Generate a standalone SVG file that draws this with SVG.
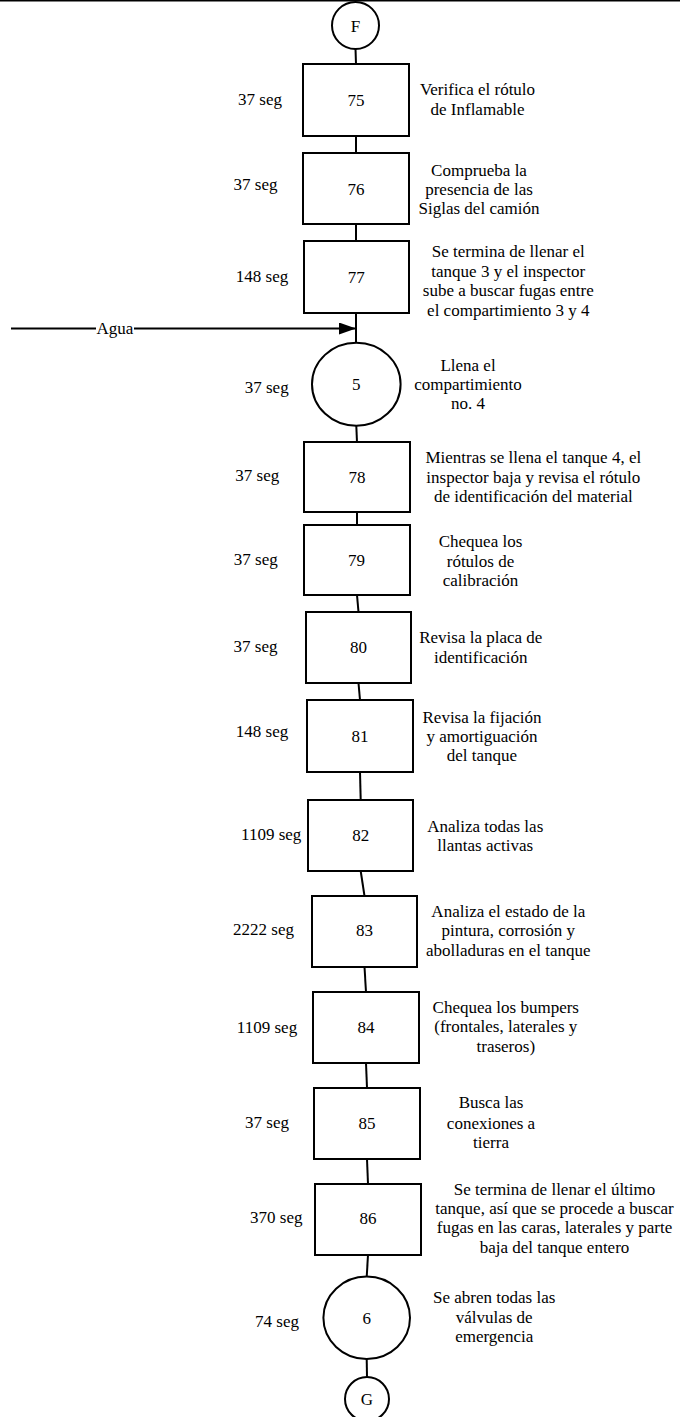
<svg xmlns="http://www.w3.org/2000/svg" width="680" height="1417" viewBox="0 0 680 1417">
<style>
text{font-family:"Liberation Serif","Times New Roman",serif;font-size:17px;fill:#000;text-anchor:middle}
.s{fill:#fff;stroke:#000;stroke-width:2}
.c{stroke:#000;stroke-width:2;fill:none}
</style>
<defs>
<marker id="ah" markerUnits="userSpaceOnUse" markerWidth="18" markerHeight="14" refX="17" refY="6" orient="auto">
<path d="M0,0 L17,6 L0,12 Z" fill="#000"/>
</marker>
</defs>
<rect x="0" y="0" width="680" height="1417" fill="#fff"/>
<line x1="0" y1="0.75" x2="680" y2="0.75" stroke="#000" stroke-width="1.5"/>
<g id="connectors">
<line class="c" x1="355.5" y1="49" x2="356" y2="64"/>
<line class="c" x1="356" y1="136" x2="356" y2="153"/>
<line class="c" x1="356" y1="224" x2="356" y2="241"/>
<line class="c" x1="356" y1="313" x2="356" y2="343"/>
<line class="c" x1="356.3" y1="426" x2="357" y2="442"/>
<line class="c" x1="357" y1="512" x2="357" y2="525"/>
<line class="c" x1="357" y1="595" x2="358.5" y2="612"/>
<line class="c" x1="358.5" y1="683" x2="360" y2="700"/>
<line class="c" x1="360" y1="772" x2="360.7" y2="800"/>
<line class="c" x1="360.7" y1="871" x2="364.5" y2="896"/>
<line class="c" x1="364.5" y1="967" x2="366" y2="992"/>
<line class="c" x1="366" y1="1063" x2="367" y2="1088"/>
<line class="c" x1="367" y1="1159" x2="368" y2="1184"/>
<line class="c" x1="368" y1="1255" x2="366.7" y2="1277"/>
<line class="c" x1="366.7" y1="1359" x2="367" y2="1377"/>
<line class="c" x1="11" y1="328.5" x2="96" y2="328.5"/>
<line class="c" x1="134" y1="328.5" x2="356" y2="328.5" marker-end="url(#ah)"/>
<text x="115" y="333.5">Agua</text>
</g>
<g id="nF"><circle class="s" cx="355.5" cy="25.5" r="23.5"/><text x="355.5" y="31.5">F</text></g>
<g id="n75"><rect class="s" x="303" y="64" width="106" height="72"/><text x="356" y="105.5">75</text><text x="260" y="105">37 seg</text><text x="477.5" y="95">Verifica el rótulo</text><text x="477.5" y="115">de Inflamable</text></g>
<g id="n76"><rect class="s" x="303" y="153" width="106" height="71"/><text x="356" y="194.5">76</text><text x="255.5" y="190">37 seg</text><text x="479" y="175.5">Comprueba la</text><text x="479" y="194.5">presencia de las</text><text x="479" y="213.5">Siglas del camión</text></g>
<g id="n77"><rect class="s" x="304" y="241" width="105" height="72"/><text x="356.3" y="283">77</text><text x="262" y="281.7">148 seg</text><text x="508.3" y="257">Se termina de llenar el</text><text x="508.3" y="276.5">tanque 3 y el inspector</text><text x="508.3" y="296">sube a buscar fugas entre</text><text x="508.3" y="315.5">el compartimiento 3 y 4</text></g>
<g id="n5"><ellipse class="s" cx="356.3" cy="384.2" rx="44.3" ry="41.5"/><text x="356.3" y="389.5">5</text><text x="266.7" y="393.3">37 seg</text><text x="468" y="370.5">Llena el</text><text x="468" y="389.5">compartimiento</text><text x="468" y="408.5">no. 4</text></g>
<g id="n78"><rect class="s" x="304" y="442" width="106" height="70"/><text x="357" y="482.5">78</text><text x="257.3" y="481">37 seg</text><text x="533.3" y="463.3">Mientras se llena el tanque 4, el</text><text x="533.3" y="482.7">inspector baja y revisa el rótulo</text><text x="533.3" y="501.7">de identificación del material</text></g>
<g id="n79"><rect class="s" x="304" y="525" width="106" height="70"/><text x="356.5" y="565.5">79</text><text x="255.8" y="565">37 seg</text><text x="480.5" y="547">Chequea los</text><text x="480.5" y="566.5">rótulos de</text><text x="480.5" y="586">calibración</text></g>
<g id="n80"><rect class="s" x="306" y="612" width="105" height="71"/><text x="358.5" y="653">80</text><text x="255.5" y="652">37 seg</text><text x="480.8" y="643">Revisa la placa de</text><text x="480.8" y="662.5">identificación</text></g>
<g id="n81"><rect class="s" x="307" y="700" width="106" height="72"/><text x="360" y="742">81</text><text x="262" y="737.3">148 seg</text><text x="482" y="723">Revisa la fijación</text><text x="482" y="742">y amortiguación</text><text x="482" y="761">del tanque</text></g>
<g id="n82"><rect class="s" x="308" y="800" width="105" height="71"/><text x="360.7" y="840.5">82</text><text x="271.2" y="840">1109 seg</text><text x="485.2" y="831.7">Analiza todas las</text><text x="485.2" y="851.3">llantas activas</text></g>
<g id="n83"><rect class="s" x="312" y="896" width="105" height="71"/><text x="364.5" y="936">83</text><text x="263.5" y="935">2222 seg</text><text x="508.3" y="916.7">Analiza el estado de la</text><text x="508.3" y="936">pintura, corrosión y</text><text x="508.3" y="956">abolladuras en el tanque</text></g>
<g id="n84"><rect class="s" x="313" y="992" width="106" height="71"/><text x="366" y="1033">84</text><text x="267" y="1032.7">1109 seg</text><text x="505.8" y="1012.5">Chequea los bumpers</text><text x="505.8" y="1032">(frontales, laterales y</text><text x="505.8" y="1051.5">traseros)</text></g>
<g id="n85"><rect class="s" x="314" y="1088" width="106" height="71"/><text x="367" y="1129">85</text><text x="267" y="1128">37 seg</text><text x="491" y="1108.3">Busca las</text><text x="491" y="1129">conexiones a</text><text x="491" y="1148.3">tierra</text></g>
<g id="n86"><rect class="s" x="315" y="1184" width="106" height="71"/><text x="368" y="1224">86</text><text x="276.3" y="1223">370 seg</text><text x="554.5" y="1195">Se termina de llenar el último</text><text x="554.5" y="1214.3">tanque, así que se procede a buscar</text><text x="554.5" y="1233.3">fugas en las caras, laterales y parte</text><text x="554.5" y="1252.7">baja del tanque entero</text></g>
<g id="n6"><ellipse class="s" cx="366.7" cy="1317.8" rx="43.3" ry="41.2"/><text x="366.7" y="1323.5">6</text><text x="277" y="1326.7">74 seg</text><text x="494.2" y="1303.3">Se abren todas las</text><text x="494.2" y="1322.7">válvulas de</text><text x="494.2" y="1341.7">emergencia</text></g>
<g id="nG"><circle class="s" cx="367" cy="1399" r="22"/><text x="367" y="1405">G</text></g>
</svg>
